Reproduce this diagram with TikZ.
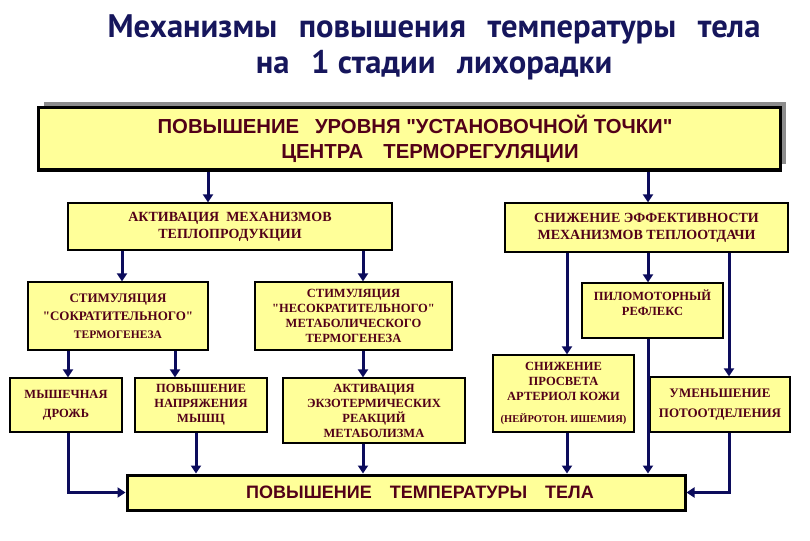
\documentclass[tikz,border=0pt]{standalone}
\usepackage{fontspec}
\setmainfont{Liberation Serif}
\newfontfamily\headfont{PT Sans}
\newfontfamily\boxfont{Liberation Sans}
\usetikzlibrary{arrows.meta,positioning,calc,shadows}
\definecolor{fevnavy}{RGB}{22,22,92}
\definecolor{fevline}{RGB}{12,12,92}
\definecolor{fevtext}{RGB}{82,0,24}
\definecolor{fevfill}{RGB}{255,255,153}
\definecolor{fevshade}{RGB}{140,140,140}
\newcommand{\qq}{\textquotedbl}
\newcommand{\gap}{\enspace\,}
\tikzset{
  arr/.style={-{Triangle[length=8pt,width=10pt]}, fevline, line width=3pt},
  sbox/.style={draw=black, fill=fevfill, line width=1.3pt, inner sep=2pt, align=center,
               text=fevtext, font=\fontsize{12.5}{15}\selectfont\bfseries},
  mbox/.style={sbox, font=\fontsize{14}{17}\selectfont\bfseries},
  bbox/.style={draw=black, fill=fevfill, line width=3pt, align=center,
               text=fevtext, font=\boxfont\bfseries\fontsize{20.3}{25}\selectfont},
  ttl/.style={text=fevnavy, align=center, font=\headfont\bfseries\fontsize{32.6}{36}\selectfont},
}

\begin{document}
\begin{tikzpicture}[x=1pt, y=-1pt]
  \useasboundingbox (0,0) rectangle (810,540);
  \node[ttl] (title) at (434,47) {Механизмы\gap повышения\gap температуры\gap тела\\
    на\gap 1 стадии\gap лихорадки};

  \node[bbox, minimum width=742pt, minimum height=62pt,
        drop shadow={shadow xshift=6pt, shadow yshift=6pt, fill=fevshade, opacity=1}]
    (top) at (409,139) {\hspace*{12pt}ПОВЫШЕНИЕ\enspace\ УРОВНЯ \qq УСТАНОВОЧНОЙ ТОЧКИ\qq\\
    \hspace*{42pt}ЦЕНТРА\quad ТЕРМОРЕГУЛЯЦИИ};

  \node[mbox, minimum width=324pt, minimum height=47pt] (act) at (230,226.5)
    {АКТИВАЦИЯ\enspace МЕХАНИЗМОВ\\ТЕПЛОПРОДУКЦИИ};
  \node[mbox, minimum width=283pt, minimum height=49pt] (red) at (646.5,227.5)
    {СНИЖЕНИЕ ЭФФЕКТИВНОСТИ\\МЕХАНИЗМОВ ТЕПЛООТДАЧИ};

  \node[sbox, minimum width=180pt, minimum height=68pt, font=\fontsize{13}{18}\selectfont\bfseries]
    (contr) at (118,316) {СТИМУЛЯЦИЯ\\\qq СОКРАТИТЕЛЬНОГО\qq\\{\fontsize{11.5}{18}\selectfont ТЕРМОГЕНЕЗА}};
  \node[sbox, minimum width=197pt, minimum height=68pt] (noncontr) at (353.5,316)
    {СТИМУЛЯЦИЯ\\\qq НЕСОКРАТИТЕЛЬНОГО\qq\\МЕТАБОЛИЧЕСКОГО\\ТЕРМОГЕНЕЗА};
  \node[sbox, minimum width=141pt, minimum height=55pt] (pilo) at (652.5,310.5)
    {ПИЛОМОТОРНЫЙ\\РЕФЛЕКС\\\mbox{}};

  \node[sbox, minimum width=112pt, minimum height=54pt] (shiver) at (66,405)
    {МЫШЕЧНАЯ\\[4pt]ДРОЖЬ};
  \node[sbox, minimum width=132pt, minimum height=54pt] (tension) at (201,405)
    {ПОВЫШЕНИЕ\\НАПРЯЖЕНИЯ\\МЫШЦ};
  \node[sbox, minimum width=182pt, minimum height=65pt] (exo) at (374,410.5)
    {АКТИВАЦИЯ\\ЭКЗОТЕРМИЧЕСКИХ\\РЕАКЦИЙ\\МЕТАБОЛИЗМА};
  \node[sbox, minimum width=141pt, minimum height=77pt] (lumen) at (563.5,393.5)
    {СНИЖЕНИЕ\\ПРОСВЕТА\\АРТЕРИОЛ КОЖИ\\[7pt]{\fontsize{10.5}{11}\selectfont(НЕЙРОТОН. ИШЕМИЯ)}};
  \node[sbox, minimum width=140pt, minimum height=55pt, font=\fontsize{13}{15}\selectfont\bfseries]
    (sweat) at (720,404.5) {УМЕНЬШЕНИЕ\\[5pt]ПОТООТДЕЛЕНИЯ};

  \node[bbox, minimum width=558pt, minimum height=35pt, font=\boxfont\bfseries\fontsize{18}{22}\selectfont]
    (bot) at (406,492.5) {\hspace*{28pt}ПОВЫШЕНИЕ\quad ТЕМПЕРАТУРЫ\quad ТЕЛА};

  \coordinate (xa) at (208,0);
  \coordinate (xb) at (648,0);
  \coordinate (xc) at (122,0);
  \coordinate (xd) at (363,0);
  \coordinate (xe) at (567,0);
  \coordinate (xf) at (729,0);
  \coordinate (xg) at (68,0);
  \coordinate (xh) at (175,0);
  \coordinate (xi) at (196,0);

  \draw[arr] (top.south -| xa) -- (act.north -| xa);
  \draw[arr] (top.south -| xb) -- (red.north -| xb);
  \draw[arr] (act.south -| xc) -- (contr.north -| xc);
  \draw[arr] (act.south -| xd) -- (noncontr.north -| xd);
  \draw[arr] (red.south -| xe) -- (lumen.north -| xe);
  \draw[arr] (red.south -| xb) -- (pilo.north -| xb);
  \draw[arr] (red.south -| xf) -- (sweat.north -| xf);
  \draw[arr] (contr.south -| xg) -- (shiver.north -| xg);
  \draw[arr] (contr.south -| xh) -- (tension.north -| xh);
  \draw[arr] (noncontr.south -| xd) -- (exo.north -| xd);

  \foreach \n/\c in {tension/xi, exo/xd, lumen/xe, pilo/xb}
    \draw[arr] (\n.south -| \c) -- (bot.north -| \c);
  \draw[arr] (shiver.south -| xg) |- (bot.west);
  \draw[arr] (sweat.south -| xf) |- (bot.east);
\end{tikzpicture}
\end{document}
